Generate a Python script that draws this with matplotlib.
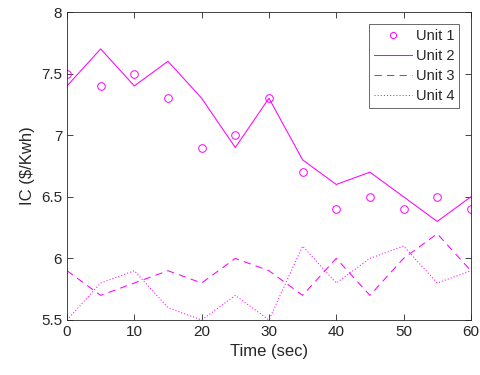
import matplotlib
matplotlib.use("Agg")
import matplotlib.pyplot as plt
import numpy as np

t = [0, 5, 10, 15, 20, 25, 30, 35, 40, 45, 50, 55, 60]
unit1 = [7.5, 7.4, 7.5, 7.3, 6.9, 7.0, 7.3, 6.7, 6.4, 6.5, 6.4, 6.5, 6.4]
unit2 = [7.4, 7.7, 7.4, 7.6, 7.3, 6.9, 7.3, 6.8, 6.6, 6.7, 6.5, 6.3, 6.5]
unit3 = [5.9, 5.7, 5.8, 5.9, 5.8, 6.0, 5.9, 5.7, 6.0, 5.7, 6.0, 6.2, 5.9]
unit4 = [5.5, 5.8, 5.9, 5.6, 5.5, 5.7, 5.5, 6.1, 5.8, 6.0, 6.1, 5.8, 5.9]

plt.rcParams['font.family'] = ['Liberation Sans', 'DejaVu Sans']
txt = '#262626'

fig = plt.figure(figsize=(4.8, 3.75), dpi=100)
ax = fig.add_axes([0.1396, 0.1467, 0.8414, 0.8213])

mag = '#ff00ff'
ax.plot(t, unit1, 'o', mfc='none', mec=mag, ms=5.5, mew=0.7, label='Unit 1')
ax.plot(t, unit2, '-', color=mag, lw=0.75, label='Unit 2')
ax.plot(t, unit3, '--', color=mag, lw=0.75, dashes=(7, 5), label='Unit 3')
ax.plot(t, unit4, ':', color=mag, lw=0.75, dashes=(1, 2), label='Unit 4')

ax.set_xlim(0, 60)
ax.set_ylim(5.5, 8)
ax.set_xticks(np.arange(0, 61, 10))
ax.set_yticks([5.5, 6, 6.5, 7, 7.5, 8])
ax.set_yticklabels(['5.5', '6', '6.5', '7', '7.5', '8'])
ax.tick_params(direction='in', top=True, right=True, labelsize=11, length=4,
               width=0.6, colors=txt)
for s in ax.spines.values():
    s.set_linewidth(0.6)
    s.set_color(txt)
ax.set_xlabel('Time (sec)', fontsize=12, color=txt)
ax.set_ylabel('IC ($/Kwh)', fontsize=12, color=txt)

leg = ax.legend(loc='upper right', fontsize=10.5, frameon=True, fancybox=False,
                edgecolor=txt, handlelength=2.6, borderpad=0.35,
                labelspacing=0.42, handletextpad=0.25, borderaxespad=0.8,
                markerscale=0.8)
leg.get_frame().set_linewidth(0.6)
for tx in leg.get_texts():
    tx.set_color(txt)

fig.savefig('out.png', dpi=100)
